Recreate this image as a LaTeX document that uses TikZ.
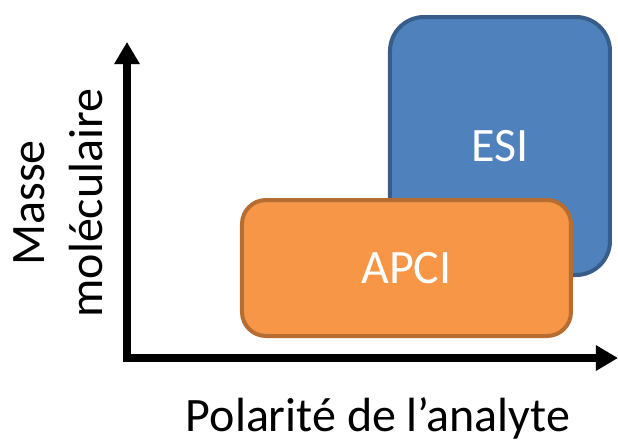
\documentclass[tikz,border=0pt]{standalone}
\usepackage{fontspec}
\setmainfont{Carlito}
\usepackage{xcolor}
\usetikzlibrary{arrows.meta}
\definecolor{vesifill}{HTML}{4F81BD}
\definecolor{vesiline}{HTML}{385D8A}
\definecolor{vapcifill}{HTML}{F79646}
\definecolor{vapciline}{HTML}{B66D31}
\tikzset{
	zone/.style={draw, line width=2pt, text=white, font=\fontsize{24}{29}\selectfont},
	axe/.style={line width=4pt, line join=miter, {Triangle[length=11pt,width=12pt]}-{Triangle[length=11pt,width=12pt]}},
	legende/.style={font=\fontsize{24}{29}\selectfont, align=center}
}
\begin{document}
\begin{tikzpicture}[x=0.5pt, y=-0.5pt]
		\useasboundingbox (0,0) rectangle (618,441);
		\coordinate (O)	 at (127,358);
		\coordinate (Y)	 at (127,42);
		\coordinate (X)	 at (618,358);
		\draw[axe, color=black!20, shift={(3,4)}] (Y) -- (O) -- (X);
		\draw[axe, color=black] (Y) -- (O) -- (X);
		\node[zone, fill=vesifill, draw=vesiline, minimum width=110pt, minimum height=129pt, rounded corners=17pt] (esi) at (500,146) {ESI};
		\node[zone, fill=vapcifill, draw=vapciline, minimum width=164.5pt, minimum height=68pt, rounded corners=12pt] (apci) at (406.5,268) {APCI};
		\node[legende] (polarite) at (378,418) {Polarité de l’analyte};
		\node[legende, rotate=90] (masse) at (58,203) {Masse\\moléculaire};
	\end{tikzpicture}
\end{document}
